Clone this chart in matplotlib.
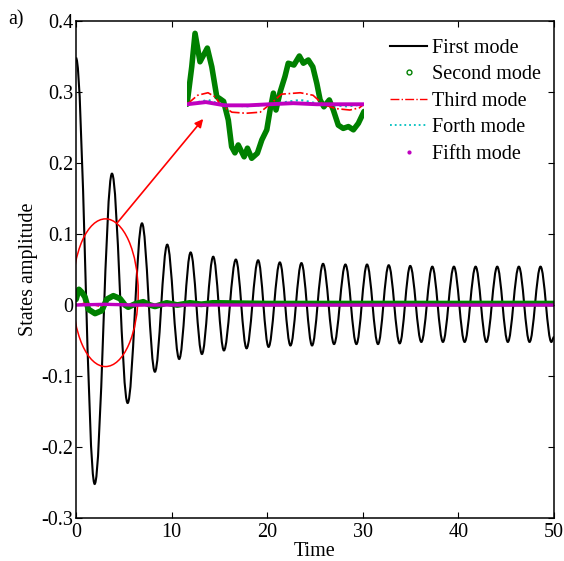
import matplotlib
matplotlib.use('Agg')
import matplotlib.pyplot as plt
from matplotlib.lines import Line2D
from matplotlib.patches import Ellipse, PathPatch
from matplotlib.path import Path

plt.rcParams['font.family'] = ['Liberation Serif', 'DejaVu Serif']
plt.rcParams['font.size'] = 14.5

# first mode: turning points
t_first = [0, 1.95, 3.76, 5.40, 6.90, 8.25, 9.54, 10.79, 11.99, 13.17, 14.35, 15.47,
           16.72, 17.84, 19.05, 20.14, 21.32, 22.43, 23.58, 24.69, 25.84, 26.99, 28.18,
           29.33, 30.44, 31.59, 32.71, 33.86, 34.96, 36.12, 37.27, 38.38, 39.53, 40.65,
           41.80, 42.92, 44.06, 45.17, 46.32, 47.44, 48.59, 49.72, 50.0]
y_first = [0.348, -0.252, 0.185, -0.138, 0.115, -0.094, 0.085, -0.076, 0.074, -0.069,
           0.068, -0.064, 0.064, -0.061, 0.063, -0.059, 0.060, -0.057, 0.059, -0.057,
           0.058, -0.055, 0.057, -0.055, 0.057, -0.055, 0.056, -0.054, 0.055, -0.052,
           0.054, -0.052, 0.054, -0.052, 0.054, -0.052, 0.054, -0.052, 0.054, -0.052,
           0.054, -0.052, -0.045]

t_second = [0, 0.3, 0.6, 0.94, 1.29, 1.99, 2.69, 3.21, 3.9, 4.6, 5.12, 5.46, 6.17, 7.03,
            7.73, 8.26, 9.48, 10.6, 11.9, 13.1, 14.3, 20, 30, 50]
y_second = [0.008, 0.022, 0.018, 0.011, -0.006, -0.012, -0.008, 0.008, 0.013, 0.009, 0.0,
            -0.003, 0.0015, 0.0045, 0.0, -0.002, 0.003, 0.0, 0.003, 0.001, 0.003, 0.002,
            0.002, 0.002]

t_third = [0, 1.0, 2.5, 4.3, 6.5, 10, 50]
y_third = [0, 0.003, -0.002, 0.002, -0.001, 0, 0]

t_forth = [0, 1.0, 2.5, 4.3, 6.5, 10, 50]
y_forth = [0, 0.0015, -0.001, 0.001, -0.0005, 0, 0]

t_fifth = [0, 3, 6, 50]
y_fifth = [0, 0.001, 0, 0]

# zoomed view drawn above the legend (own time / amplitude units)
t_zoom_second = [0, 0.2, 0.34, 0.55, 0.86, 1.05, 1.26, 1.4, 1.55, 1.75, 1.89, 2.03, 2.17,
                 2.42, 2.56, 2.74, 2.98, 3.17, 3.38, 3.52, 3.66, 3.77, 3.95, 4.15, 4.29,
                 4.53, 4.76, 4.93, 5.14, 5.33, 5.5, 5.64, 5.8, 6.03, 6.2, 6.41, 6.62, 6.84,
                 7.05, 7.26, 7.5]
y_zoom_second = [0, 0.0104, 0.0197, 0.0118, 0.0156, 0.0104, 0.0021, 0.0015, 0.0008,
                 -0.0044, -0.0118, -0.0135, -0.0113, -0.0146, -0.0122, -0.015, -0.0136,
                 -0.0099, -0.0071, -0.0016, 0.0031, -0.0016, 0.0035, 0.0077, 0.0114,
                 0.0109, 0.0134, 0.0114, 0.0123, 0.0104, 0.0058, 0.0012, -0.0007, 0.0012,
                 -0.0016, -0.0058, -0.0067, -0.0062, -0.0071, -0.0053, -0.002]
t_zoom_third = [0, 0.45, 0.89, 1.2, 1.4, 1.9, 2.5, 3.1, 3.52, 4.0, 4.8, 5.34, 5.76, 6.3,
                6.9, 7.3, 7.5]
y_zoom_third = [0, 0.0025, 0.0032, 0.002, 0, -0.0022, -0.0025, -0.0022, 0, 0.0028, 0.0032,
                0.0025, 0, -0.0012, -0.0016, -0.001, 0]
t_zoom_forth = [0, 0.9, 1.4, 2.5, 3.5, 4.8, 5.7, 6.8, 7.5]
y_zoom_forth = [0, 0.0012, 0, -0.0006, 0, 0.0012, 0, -0.0006, 0]
t_zoom_fifth = [0, 0.8, 1.6, 2.6, 3.5, 4.5, 5.5, 7.5]
y_zoom_fifth = [0, 0.0006, -0.0003, -0.0003, 0, 0.0003, 0, 0]

x_ticks = [0, 10, 20, 30, 40, 50]
y_ticks = [-0.3, -0.2, -0.1, 0, 0.1, 0.2, 0.3, 0.4]
y_tick_labels = ['-0.3', '-0.2', '-0.1', '0', '0.1', '0.2', '0.3', '0.4']

green = (0, 0.5, 0)
cyan = (0, 0.75, 0.75)


def smooth_path(ts, ys, k=0.36):
    # cubic segments with flat tangents at every turning point
    verts = [(ts[0], ys[0])]
    codes = [Path.MOVETO]
    for i in range(len(ts) - 1):
        dt = ts[i + 1] - ts[i]
        verts += [(ts[i] + k * dt, ys[i]), (ts[i + 1] - k * dt, ys[i + 1]), (ts[i + 1], ys[i + 1])]
        codes += [Path.CURVE4] * 3
    return Path(verts, codes)


fig = plt.figure(figsize=(5.64, 5.61), dpi=100)
ax = fig.add_axes([0.1348, 0.0766, 0.8475, 0.886])

ax.add_patch(PathPatch(smooth_path(t_first, y_first), fill=False, edgecolor='k', lw=1.5))
ax.plot(t_second, y_second, color=green, lw=4.2, solid_capstyle='round')
ax.plot(t_third, y_third, '-.', color='r', lw=1.0)
ax.plot(t_forth, y_forth, ':', color=cyan, lw=1.3)
ax.plot(t_fifth, y_fifth, color='m', lw=2.4)

ax.set_xlim(0, 50)
ax.set_ylim(-0.3, 0.4)
ax.set_xticks(x_ticks)
ax.set_yticks(y_ticks)
ax.set_yticklabels(y_tick_labels)
ax.tick_params(direction='in', top=True, right=True, length=4, width=0.8)
ax.tick_params(axis='x', pad=3.5)
ax.tick_params(axis='y', pad=2)
for s in ax.spines.values():
    s.set_linewidth(1.1)
ax.set_xlabel('Time', labelpad=0)
ax.set_ylabel('States amplitude', labelpad=2)

ax.add_patch(Ellipse((3.08, 0.0173), 6.85, 0.208, fill=False, edgecolor='r', lw=1.1))
ax.annotate('', xy=(13.3, 0.262), xytext=(4.36, 0.1165),
            arrowprops=dict(arrowstyle='-|>', color='r', lw=1.2, mutation_scale=12,
                            shrinkA=0, shrinkB=0))

handles = [Line2D([], [], color='k', lw=1.5),
           Line2D([], [], color=green, marker='o', ls='none', ms=3.5, mfc='none', mew=1),
           Line2D([], [], color='r', ls='-.', lw=1.0),
           Line2D([], [], color=cyan, ls=':', lw=1.3),
           Line2D([], [], color='m', marker='.', ls='none', ms=4)]
labels = ['First mode', 'Second mode', 'Third mode', 'Forth mode', 'Fifth mode']
ax.legend(handles, labels, loc='upper left', bbox_to_anchor=(390 / 564, 0.931),
          bbox_transform=fig.transFigure, frameon=False, borderpad=0, borderaxespad=0,
          handlelength=1.85, handletextpad=0.23, labelspacing=0.37)

axz = fig.add_axes([0.3316, 0.6537, 0.3138, 0.3209])
axz.patch.set_visible(False)
axz.axis('off')
axz.plot(t_zoom_second, y_zoom_second, color=green, lw=4.0, solid_capstyle='round')
axz.plot(t_zoom_third, y_zoom_third, '-.', color='r', lw=1.2)
axz.plot(t_zoom_forth, y_zoom_forth, ':', color=cyan, lw=1.5)
axz.plot(t_zoom_fifth, y_zoom_fifth, color='m', lw=2.8)
axz.set_xlim(0, 7.5)
axz.set_ylim(-0.025, 0.025)

fig.text(8 / 564, 1 - 20 / 561, 'a)', va='center', ha='left')

fig.savefig('out.png', dpi=100)
